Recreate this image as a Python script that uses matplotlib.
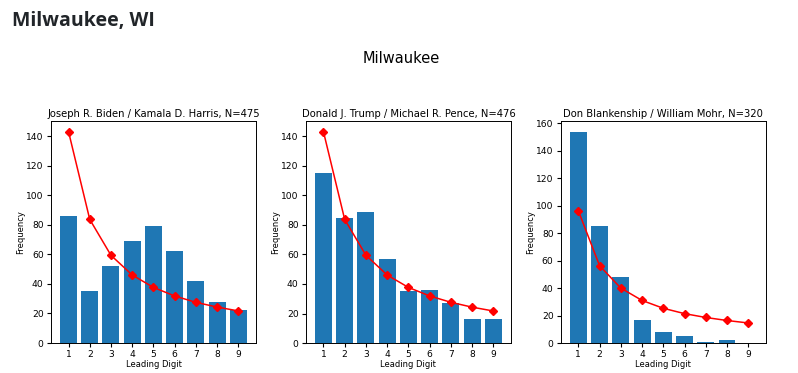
import matplotlib
matplotlib.use("Agg")
import matplotlib.pyplot as plt

digits = [1, 2, 3, 4, 5, 6, 7, 8, 9]

titles = [
    "Joseph R. Biden / Kamala D. Harris, N=475",
    "Donald J. Trump / Michael R. Pence, N=476",
    "Don Blankenship / William Mohr, N=320",
]

# observed leading-digit counts
biden = [86, 35, 52, 69, 79, 62, 42, 28, 22]
trump = [115, 85, 89, 57, 35, 36, 27, 16, 16]
blankenship = [154, 85, 48, 17, 8, 5, 1, 2, 0]

# expected counts (Benford)
biden_exp = [143.0, 83.6, 59.3, 46.0, 37.6, 31.8, 27.5, 24.3, 21.7]
trump_exp = [143.3, 83.8, 59.5, 46.1, 37.7, 31.9, 27.6, 24.3, 21.7]
blankenship_exp = [96.3, 56.3, 40.0, 31.0, 25.3, 21.4, 18.6, 16.4, 14.6]

observed = [biden, trump, blankenship]
expected = [biden_exp, trump_exp, blankenship_exp]

fig = plt.figure(figsize=(7.98, 3.73), dpi=100)
fig.subplots_adjust(left=0.0635, right=0.96, bottom=0.0804, top=0.6756, wspace=0.24)

fig.text(0.015, 0.945, "Milwaukee, WI", fontsize=14, fontweight="bold",
         family=["Open Sans", "DejaVu Sans"], color="#212529", va="center", ha="left")
fig.text(0.503, 0.842, "Milwaukee", fontsize=10.5, ha="center", va="center")

for i in range(3):
    ax = fig.add_subplot(1, 3, i + 1)
    ax.bar(digits, observed[i], color="#1f77b4")
    ax.plot(digits, expected[i], color="red", marker="D", markersize=4.5, linewidth=1.1)
    ax.set_xticks(digits)
    ax.set_title(titles[i], fontsize=7.2, pad=3)
    ax.set_xlabel("Leading Digit", fontsize=6.0, labelpad=1)
    ax.set_ylabel("Frequency", fontsize=6.0, labelpad=1)
    ax.tick_params(labelsize=6.6, length=3, pad=2)
    for s in ax.spines.values():
        s.set_linewidth(0.7)

fig.savefig("out.png", dpi=100)
